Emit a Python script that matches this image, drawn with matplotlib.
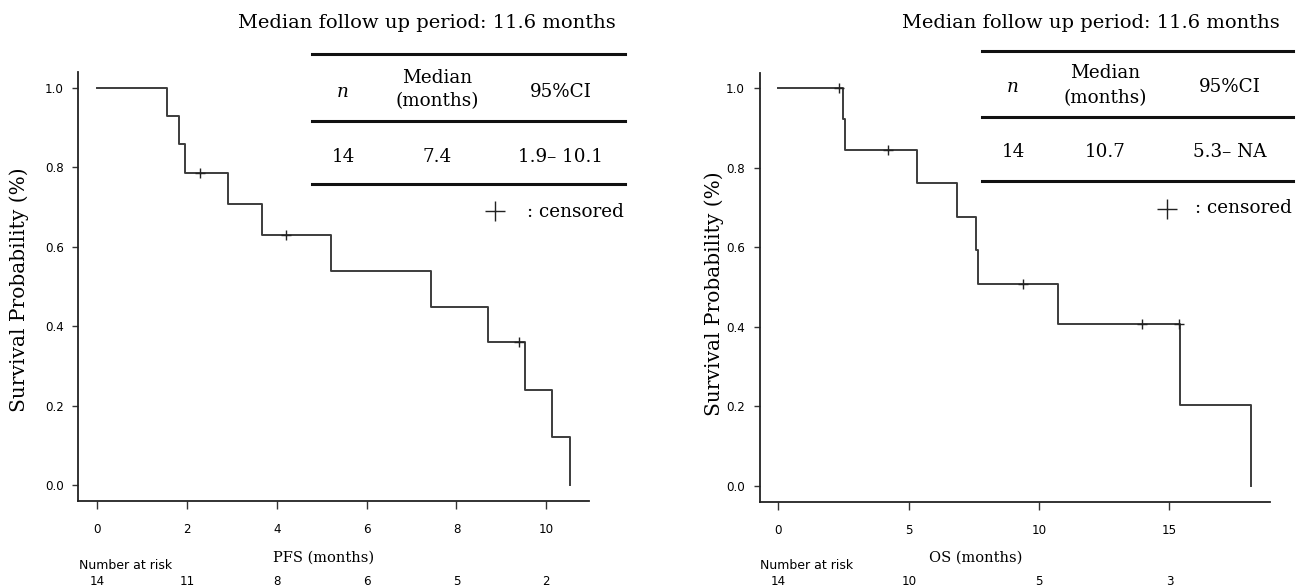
import matplotlib
matplotlib.use("Agg")
import matplotlib.pyplot as plt
from matplotlib.lines import Line2D
import matplotlib.transforms as mtransforms

W, H, DPI = 1304, 587, 100

# ---------------- data ----------------
pfs_times = [0, 1.56, 1.83, 1.95, 2.91, 3.67, 5.20, 7.43, 8.70, 9.53, 10.13, 10.53]
pfs_surv = [1.0, 0.929, 0.857, 0.786, 0.707, 0.629, 0.539, 0.449, 0.359, 0.240, 0.120, 0.0]
pfs_cens_t = [2.29, 4.20, 9.40]
pfs_cens_s = [0.786, 0.629, 0.359]
pfs_ticks = [0, 2, 4, 6, 8, 10]
pfs_risk = [14, 11, 8, 6, 5, 2]

os_times = [0, 2.47, 2.56, 5.33, 6.85, 7.57, 7.66, 10.73, 15.41, 18.13]
os_surv = [1.0, 0.923, 0.846, 0.762, 0.677, 0.593, 0.508, 0.406, 0.203, 0.0]
os_cens_t = [2.32, 4.20, 9.39, 13.93, 15.37]
os_cens_s = [1.0, 0.846, 0.508, 0.406, 0.406]
os_ticks = [0, 5, 10, 15]
os_risk = [14, 10, 5, 3]

y_ticks = [0.0, 0.2, 0.4, 0.6, 0.8, 1.0]

title_text = "Median follow up period: 11.6 months"
table_header = ["n", "Median\n(months)", "95%CI"]
pfs_row = ["14", "7.4", "1.9\u2013 10.1"]
os_row = ["14", "10.7", "5.3\u2013 NA"]

SERIF = ["DejaVu Serif"]
SANS = ["DejaVu Sans"]
SANS_FS = 8.6

fig = plt.figure(figsize=(W / DPI, H / DPI), dpi=DPI)


def fx(px):
    return px / W


def fy(py):
    return 1 - py / H


def make_axes(left_px, right_px, top_px, bottom_px):
    return fig.add_axes([fx(left_px), fy(bottom_px), fx(right_px - left_px), (bottom_px - top_px) / H])


def km_panel(ax, times, surv, ct, cs, ticks, xmax):
    ax.step(times, surv, where="post", color="#3c3c3c", lw=1.4)
    ax.plot(ct, cs, ls="none", marker="+", ms=7, mew=1.0, color="#222222")
    ax.set_xlim(-0.04 * xmax, 1.04 * xmax)
    ax.set_ylim(-0.04, 1.04)
    ax.set_xticks(ticks)
    ax.set_yticks(y_ticks)
    ax.set_yticklabels([f"{v:.1f}" for v in y_ticks])
    for s in ["top", "right"]:
        ax.spines[s].set_visible(False)
    for s in ["left", "bottom"]:
        ax.spines[s].set_linewidth(1.3)
        ax.spines[s].set_color("#222222")
    ax.tick_params(axis="x", direction="out", length=6, width=1, pad=10, labelsize=SANS_FS, color="#333333")
    ax.tick_params(axis="y", direction="out", length=4.5, width=1, pad=6, labelsize=SANS_FS, color="#333333")
    for lab in ax.get_xticklabels() + ax.get_yticklabels():
        lab.set_family(SANS)


# ---------------- panels ----------------
axL = make_axes(78.3, 589, 71.7, 500.9)
km_panel(axL, pfs_times, pfs_surv, pfs_cens_t, pfs_cens_s, pfs_ticks, pfs_times[-1])

axR = make_axes(759.5, 1270, 72.5, 501.5)
km_panel(axR, os_times, os_surv, os_cens_t, os_cens_s, os_ticks, os_times[-1])

# axis labels
fig.text(fx(19), fy(290), "Survival Probability (%)", rotation=90, ha="center", va="center",
         family=SERIF, fontsize=14.5)
fig.text(fx(714), fy(294), "Survival Probability (%)", rotation=90, ha="center", va="center",
         family=SERIF, fontsize=14.5)
fig.text(fx(324), fy(562), "PFS (months)", ha="center", va="baseline", family=SERIF, fontsize=10.5)
fig.text(fx(976), fy(562), "OS (months)", ha="center", va="baseline", family=SERIF, fontsize=10.5)

# number at risk
fig.text(fx(79), fy(569), "Number at risk", ha="left", va="baseline", family=SANS, fontsize=9)
fig.text(fx(760), fy(569), "Number at risk", ha="left", va="baseline", family=SANS, fontsize=9)
for ax, ticks, risk in [(axL, pfs_ticks, pfs_risk), (axR, os_ticks, os_risk)]:
    tr = mtransforms.blended_transform_factory(ax.transData, fig.transFigure)
    for t, r in zip(ticks, risk):
        fig.text(t, fy(585), str(r), transform=tr, ha="center", va="baseline", family=SANS, fontsize=SANS_FS)


# ---------------- tables ----------------
def table(title_right, title_base, x0, x1, lines_y, col_x, head_base, med_base, months_base, row_base,
          row, plus_x, plus_y, cens_right, cens_base):
    fs = 13.2
    fig.text(fx(title_right), fy(title_base), title_text, ha="right", va="baseline", family=SERIF, fontsize=14)
    for ly in lines_y:
        fig.add_artist(Line2D([fx(x0), fx(x1)], [fy(ly), fy(ly)], color="#111111", lw=2.2,
                              transform=fig.transFigure))
    fig.text(fx(col_x[0]), fy(head_base), table_header[0], ha="center", va="baseline", family=SERIF,
             fontsize=fs, style="italic")
    med, mon = table_header[1].split("\n")
    fig.text(fx(col_x[1]), fy(med_base), med, ha="center", va="baseline", family=SERIF, fontsize=fs)
    fig.text(fx(col_x[1]), fy(months_base), mon, ha="center", va="baseline", family=SERIF, fontsize=fs)
    fig.text(fx(col_x[2]), fy(head_base), table_header[2], ha="center", va="baseline", family=SERIF, fontsize=fs)
    for cx, val in zip(col_x, row):
        fig.text(fx(cx), fy(row_base), val, ha="center", va="baseline", family=SERIF, fontsize=fs)
    fig.add_artist(Line2D([fx(plus_x)], [fy(plus_y)], marker="+", ms=15, mew=1.0, color="#222222",
                          transform=fig.transFigure))
    fig.text(fx(cens_right), fy(cens_base), ": censored", ha="right", va="baseline", family=SERIF, fontsize=fs)


table(616, 28, 312, 625, [54, 120.7, 184], [343, 437, 561], 96.7, 82.7, 106, 161.7, pfs_row,
      495, 210.7, 624, 216.7)
table(1280, 28, 982, 1293, [50.7, 116.7, 181], [1013, 1105, 1230], 91.7, 78.3, 102.7, 156.7, os_row,
      1166.7, 209.3, 1292, 213.3)

fig.savefig("out.png", dpi=DPI)
